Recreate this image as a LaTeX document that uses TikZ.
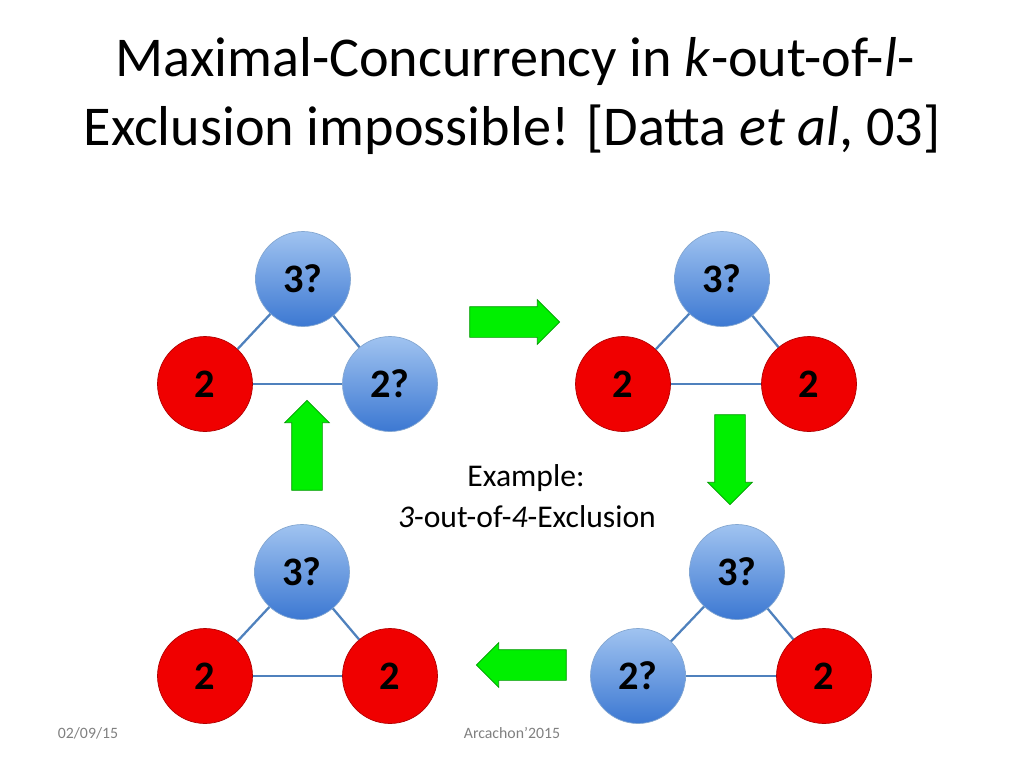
\documentclass[tikz,border=0pt]{standalone}
\usepackage{fontspec}
\setmainfont{Carlito}
\usetikzlibrary{shapes.arrows}
\definecolor{edgeblue}{RGB}{79,129,189}
\definecolor{lblue}{RGB}{160,195,240}
\definecolor{dblue}{RGB}{60,120,210}
\definecolor{rfill}{RGB}{240,0,0}
\definecolor{gfill}{RGB}{0,240,0}
\tikzset{
 bnode/.style={circle,minimum size=1.9cm,draw=edgeblue!70,top color=lblue,bottom color=dblue,font=\fontsize{23}{26}\selectfont\bfseries,inner sep=0pt},
 rnode/.style={circle,minimum size=1.9cm,draw=red!70!black,fill=rfill,font=\fontsize{23}{26}\selectfont\bfseries,inner sep=0pt},
 edge/.style={draw=edgeblue,line width=1.3pt},
 garrow/.style={single arrow,fill=gfill,draw=green!60!black,minimum height=1.8cm,inner xsep=0pt,inner ysep=0.3cm,single arrow head extend=0.14cm,single arrow tip angle=90}
}
\begin{document}
\begin{tikzpicture}[x=0.02cm,y=-0.02cm]
\useasboundingbox (0,0) rectangle (1024,768);
\node (t1) at (515,62) {\fontsize{32}{38}\selectfont Maximal-Concurrency in \textit{k}-out-of-\textit{l}-};
\node (t2) at (512,130) {\fontsize{32}{38}\selectfont Exclusion impossible! [Datta \textit{et al}, 03]};
% top-left
\node[bnode] (a3) at (303,279) {3?};
\node[rnode] (a1) at (205,384) {2};
\node[bnode] (a2) at (390,384) {2?};
% top-right
\node[bnode] (b3) at (722,279) {3?};
\node[rnode] (b1) at (623,384) {2};
\node[rnode] (b2) at (809,384) {2};
% bottom-left
\node[bnode] (c3) at (302,572) {3?};
\node[rnode] (c1) at (205,676) {2};
\node[rnode] (c2) at (390,676) {2};
% bottom-right
\node[bnode] (d3) at (737,572) {3?};
\node[bnode] (d1) at (638,676) {2?};
\node[rnode] (d2) at (824,676) {2};
\foreach \p in {a,b,c,d}{
 \draw[edge] (\p3) -- (\p1);
 \draw[edge] (\p3) -- (\p2);
 \draw[edge] (\p1) -- (\p2);
}
\node[garrow] (ar) at (507,322) {};
\node[garrow,rotate=-90] (ad) at (730,452) {};
\node[garrow,rotate=180] (al) at (529,665) {};
\node[garrow,rotate=90] (au) at (307,453) {};
\node (ex1) at (526,478) {\fontsize{18}{20}\selectfont Example:};
\node (ex2) at (527,517) {\fontsize{18}{20}\selectfont \textit{3}-out-of-\textit{4}-Exclusion};
\node[text=gray] (f1) at (88,733) {\fontsize{9}{10}\selectfont 02/09/15};
\node[text=gray] (f2) at (512,733) {\fontsize{9}{10}\selectfont Arcachon'2015};
\end{tikzpicture}
\end{document}
